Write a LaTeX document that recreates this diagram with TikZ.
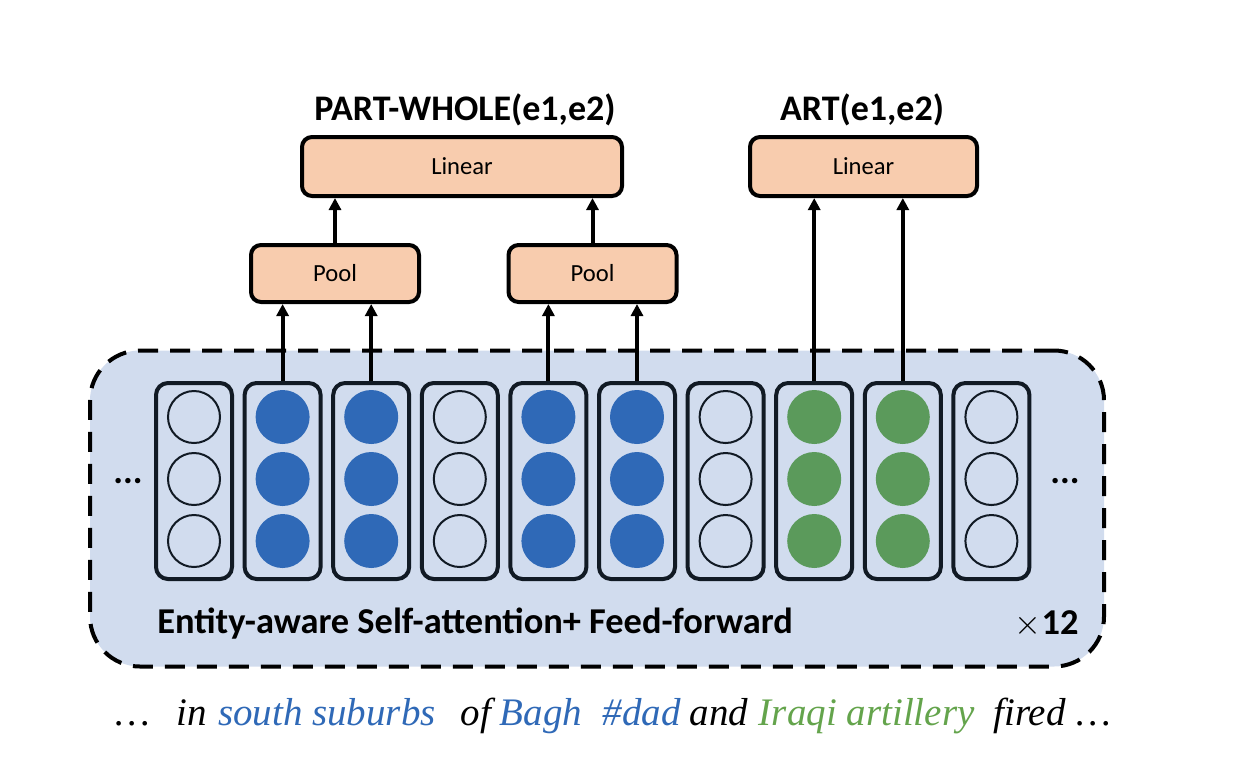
\documentclass[tikz,border=0pt]{standalone}
\usepackage{fontspec}
\setmainfont{Carlito}
\newfontfamily\serifit{Liberation Serif}
\usetikzlibrary{arrows.meta}
\definecolor{layerfill}{RGB}{209,220,238}
\definecolor{peach}{RGB}{248,204,174}
\definecolor{entblue}{RGB}{47,105,183}
\definecolor{entgreen}{RGB}{91,154,91}
\definecolor{txtgreen}{RGB}{100,164,76}
\definecolor{navy}{RGB}{17,26,36}
\tikzset{
  layerbox/.style={draw=black, fill=layerfill, line width=2pt, dash pattern=on 10pt off 6pt, rounded corners=25pt},
  colbox/.style={draw=navy, line width=2pt, rounded corners=6pt, minimum width=38pt, minimum height=98pt, inner sep=0pt},
  emptycirc/.style={circle, draw=navy, line width=1pt, minimum size=26pt, inner sep=0pt},
  bluecirc/.style={circle, fill=entblue, minimum size=27pt, inner sep=0pt},
  greencirc/.style={circle, fill=entgreen, minimum size=27pt, inner sep=0pt},
  opbox/.style={draw=black, fill=peach, line width=2pt, rounded corners=5pt, inner sep=0pt, font=\fontsize{12.3}{14}\selectfont},
  arr/.style={line width=2pt, -{Triangle[length=6pt,width=6pt]}},
  title/.style={font=\fontsize{18}{21}\selectfont\bfseries},
  bigbold/.style={font=\fontsize{18.2}{21}\selectfont\bfseries},
  word/.style={font=\serifit\itshape\fontsize{19.5}{23}\selectfont, anchor=base west, inner sep=0pt},
}
\begin{document}
\begin{tikzpicture}[x=0.5pt,y=-0.5pt]
\useasboundingbox (0,0) rectangle (1234,772);
% layer container
\node[layerbox, minimum width=507pt, minimum height=158pt] (layer) at (597,508.5) {};
% columns
\foreach \i/\st in {1/emptycirc,2/bluecirc,3/bluecirc,4/emptycirc,5/bluecirc,6/bluecirc,7/emptycirc,8/greencirc,9/greencirc,10/emptycirc}{
  \pgfmathsetmacro\cx{194+88.6*(\i-1)}
  \node[colbox] (col\i) at (\cx,481) {};
  \node[\st] (c\i a) at (\cx,417) {};
  \node[\st] (c\i b) at (\cx,479) {};
  \node[\st] (c\i c) at (\cx,541) {};
}
\node[bigbold] (dotsl) at (128,481) {...};
\node[bigbold] (dotsr) at (1065,481) {...};
\node[bigbold, anchor=west, inner sep=0pt] (layertxt) at (157,624) {Entity-aware Self-attention+ Feed-forward};
\node[bigbold, anchor=east, inner sep=0pt] (times) at (1079,624) {{\mdseries$\times$}12};
% pools
\node[opbox, minimum width=84pt, minimum height=28.5pt] (pool1) at (335,273.5) {Pool};
\node[opbox, minimum width=84pt, minimum height=28.5pt] (pool2) at (592.5,273.5) {Pool};
% linears
\node[opbox, minimum width=160pt, minimum height=29.5pt] (lin1) at (462,166.5) {Linear};
\node[opbox, minimum width=113.5pt, minimum height=29.5pt] (lin2) at (863.5,166.5) {Linear};
% titles
\node[title] (t1) at (465,110) {PART-WHOLE(e1,e2)};
\node[title] (t2) at (862,110) {ART(e1,e2)};
% arrows
\draw[arr] (col2.north) -- (col2.north |- pool1.south);
\draw[arr] (col3.north) -- (col3.north |- pool1.south);
\draw[arr] (col5.north) -- (col5.north |- pool2.south);
\draw[arr] (col6.north) -- (col6.north |- pool2.south);
\draw[arr] (pool1.north) -- (pool1.north |- lin1.south);
\draw[arr] (pool2.north) -- (pool2.north |- lin1.south);
\draw[arr] (col8.north) -- (col8.north |- lin2.south);
\draw[arr] (col9.north) -- (col9.north |- lin2.south);
% sentence
\node[word] (w1) at (115,725) {\ldots};
\node[word] (w2) at ([xshift=13pt]w1.base east) {in};
\node[word, text=entblue] (w3) at ([xshift=5pt]w2.base east) {south suburbs};
\node[word] (w4) at ([xshift=12pt]w3.base east) {of};
\node[word, text=entblue] (w5) at ([xshift=4pt]w4.base east) {Bagh};
\node[word, text=entblue] (w6) at ([xshift=10pt]w5.base east) {\#dad};
\node[word] (w7) at ([xshift=4pt]w6.base east) {and};
\node[word, text=txtgreen] (w8) at ([xshift=5pt]w7.base east) {Iraqi artillery};
\node[word] (w9) at ([xshift=9pt]w8.base east) {fired};
\node[word] (w10) at ([xshift=5pt]w9.base east) {\ldots};
\end{tikzpicture}
\end{document}
